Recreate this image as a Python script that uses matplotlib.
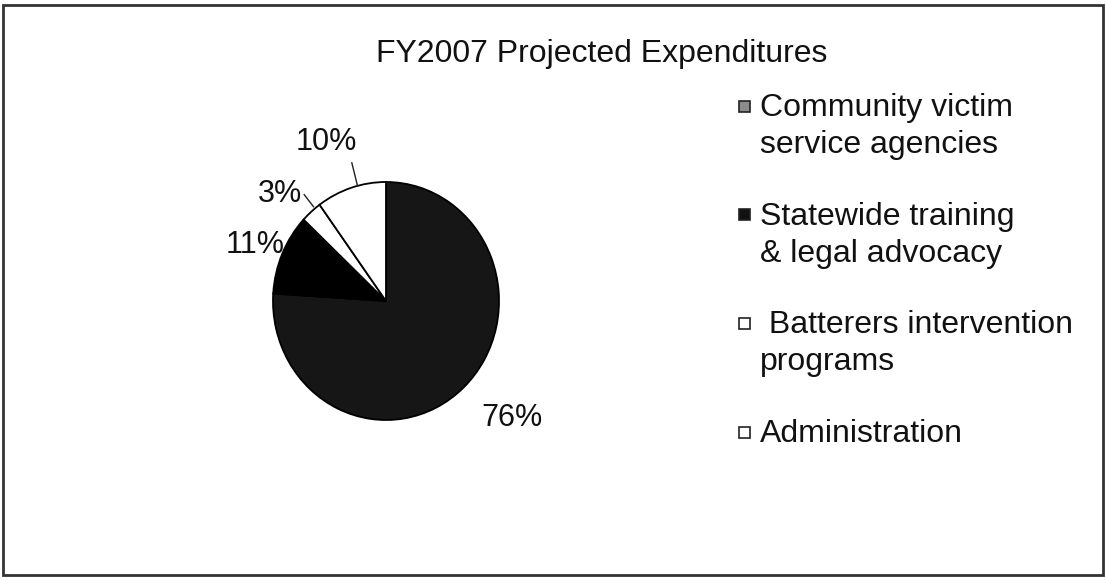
import matplotlib
matplotlib.use('Agg')
import matplotlib.pyplot as plt
import numpy as np
from matplotlib.patches import Rectangle

# ---- data ----
title = "FY2007 Projected Expenditures"
categories = ["Community victim\nservice agencies",
              "Statewide training\n& legal advocacy",
              " Batterers intervention\nprograms",
              "Administration"]
shares = [76, 11, 3, 10]
pct_labels = ["76%", "11%", "3%", "10%"]

# ---- style ----
slice_colors = ["#161616", "#000000", "#ffffff", "#ffffff"]
legend_colors = ["#8c8c8c", "#111111", "#ffffff", "#ffffff"]
label_radius = [1.49, 1.25, 1.30, 1.44]
label_shift = [5.4, 1.3, 4.8, 3.7]          # degrees, label placement tweak
leader = [None, None, (-2.4, 1.02, 1.15), (-3.4, 1.0, 1.2)]

plt.rcParams['font.family'] = ['Liberation Sans', 'DejaVu Sans']
W, H = 1106, 580
fig = plt.figure(figsize=(W / 100, H / 100), dpi=100)
fig.patch.set_facecolor('white')

cx, cy, rx, ry = 386, 301, 113, 119
m = 1.1
ax = fig.add_axes([(cx - m * rx) / W, (H - cy - m * ry) / H, 2 * m * rx / W, 2 * m * ry / H])
wedges, _ = ax.pie(shares, colors=slice_colors, startangle=90, counterclock=False,
                   radius=1, wedgeprops=dict(edgecolor='black', linewidth=1.3))
ax.set_aspect('auto')
ax.set_xlim(-m, m)
ax.set_ylim(-m, m)
ax.axis('off')

for w, lab, r, sh, ld in zip(wedges, pct_labels, label_radius, label_shift, leader):
    mid = (w.theta1 + w.theta2) / 2
    ang = np.deg2rad(mid + sh)
    ax.text(r * np.cos(ang), r * np.sin(ang), lab, ha='center', va='center',
            fontsize=22, color='#111111', clip_on=False)
    if ld is not None:
        la = np.deg2rad(mid + ld[0])
        c, s = np.cos(la), np.sin(la)
        ax.plot([c * ld[1], c * ld[2]], [s * ld[1], s * ld[2]], color='#222222',
                lw=1.0, clip_on=False)

# title
fig.text(602 / W, 1 - 62 / H, title, ha='center', va='baseline', fontsize=23,
         color='#111111')

# legend (manual, one text per line)
leg_x_text = 760
leg_first_base = 116
leg_step = 108.7
line_step = 37
for i, (lab, col) in enumerate(zip(categories, legend_colors)):
    base = leg_first_base + i * leg_step
    for j, line in enumerate(lab.split('\n')):
        fig.text(leg_x_text / W, 1 - (base + j * line_step) / H, line, ha='left',
                 va='baseline', fontsize=23, color='#111111')
    sz = 11
    fig.patches.append(Rectangle(((744 - sz / 2) / W, 1 - (base - 10 + sz / 2) / H),
                                 sz / W, sz / H, transform=fig.transFigure,
                                 facecolor=col, edgecolor='#222222', lw=1.2))

# outer border
fig.patches.append(Rectangle((3 / W, 5 / H), 1100 / W, 570 / H, transform=fig.transFigure,
                             fill=False, edgecolor='#333333', lw=2))

fig.savefig('out.png', dpi=100)
